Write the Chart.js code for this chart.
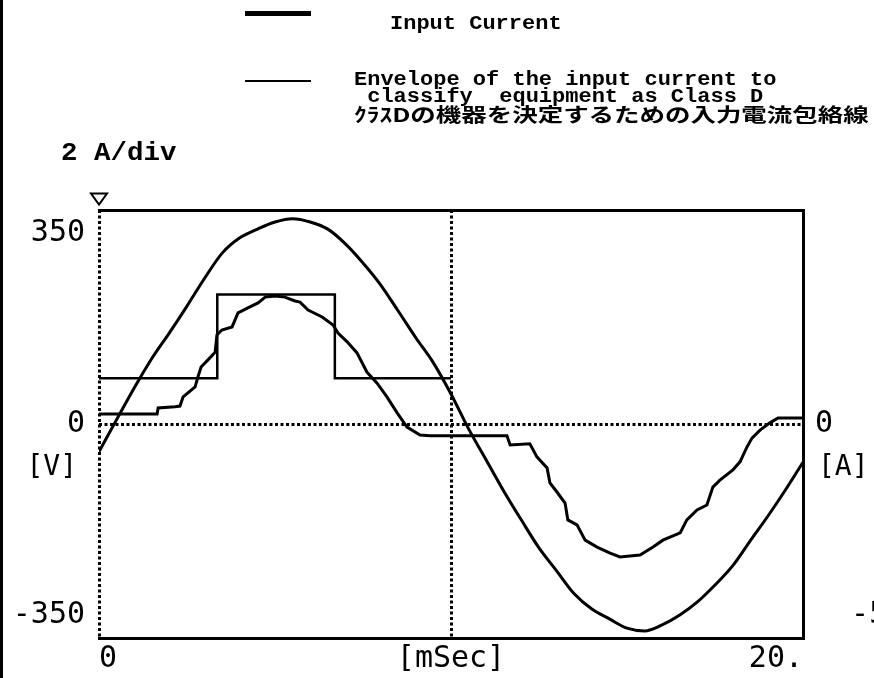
<!DOCTYPE html>
<html>
<head>
<meta charset="utf-8">
<script src="https://cdn.jsdelivr.net/npm/chart.js@4.4.1/dist/chart.umd.min.js"></script>
<style>
  html, body { margin: 0; padding: 0; background: #fff; }
  #wrap { position: relative; width: 874px; height: 678px; overflow: hidden; background: #fff; }
  #c { position: absolute; left: 0; top: 0; }
  #edge { position: absolute; left: 0; top: 0; width: 3px; height: 678px; background: #000; }
  .sw { position: absolute; background: #000; }
  .txt { position: absolute; white-space: pre; color: #000; font-family: "Liberation Mono", "DejaVu Sans Mono", monospace; font-weight: bold; font-size: 20px; line-height: 16px; transform-origin: 0 50%; transform: scaleX(1.1); }
  .jp { font-family: "Noto Sans CJK JP", sans-serif; font-weight: bold; font-size: 19px; transform: scaleX(1.34); }
</style>
</head>
<body>
<div id="wrap">
  <canvas id="c" width="874" height="678"></canvas>
  <div id="edge"></div>
</div>
<script>
// ---------- data ----------
// Line voltage [V], sampled every 0.5 ms
const voltageTimeMs = [0,0.5,1,1.5,2,2.5,3,3.5,4,4.5,5,5.5,6,6.5,7,7.5,8,8.5,9,9.5,10,10.5,11,11.5,12,12.5,13,13.5,14,14.5,15,15.5,16,16.5,17,17.5,18,18.5,19,19.5,20];
const voltageV = [-51,8,66,120,167,216,267,313,341,357,370,376,370,357,330,295,255,207,158,112,55,-9,-66,-123,-176,-227,-269,-311,-339,-357,-374,-379,-368,-350,-326,-295,-260,-214,-169,-121,-70];

// Input current [A]
const currentTimeMs = [0,1.65,1.68,2.16,2.30,2.39,2.73,2.81,2.90,3.15,3.30,3.35,3.49,3.78,3.95,4.23,4.52,4.72,5.00,5.28,5.57,5.71,5.94,6.34,6.65,6.79,7.05,7.33,7.61,7.90,8.18,8.47,8.75,9.12,9.40,11.59,11.68,12.24,12.44,12.73,12.81,13.01,13.24,13.32,13.58,13.81,14.15,14.52,14.80,15.37,15.74,16.02,16.51,16.70,16.99,17.27,17.44,17.64,18.01,18.21,18.41,18.55,18.78,19.06,19.29,20.00];
const currentA = [0.26,0.26,0.42,0.45,0.47,0.71,0.97,1.23,1.49,1.73,1.88,2.33,2.46,2.54,2.91,3.04,3.17,3.32,3.35,3.32,3.22,3.19,2.98,2.80,2.59,2.38,2.15,1.86,1.36,1.07,0.71,0.29,-0.08,-0.29,-0.31,-0.31,-0.55,-0.52,-0.86,-1.15,-1.54,-1.78,-2.07,-2.51,-2.64,-3.04,-3.22,-3.38,-3.48,-3.43,-3.22,-3.04,-2.85,-2.51,-2.25,-2.12,-1.65,-1.47,-1.20,-0.99,-0.60,-0.37,-0.16,0.03,0.16,0.16];

// Class D envelope [A]
const envelopeTimeMs = [0,3.36,3.36,6.70,6.70,10];
const envelopeA = [1.20,1.20,3.39,3.39,1.20,1.20];

// Trigger marker (top-left triangle)
const triggerTimeMs = [0];
const triggerV = [413];

// Axis ticks and labels
const xTickValues = [0,10,20];
const xTickLabels = ['0','[mSec]','20.'];
const vTickValues = [-350,0,350];
const vTickLabels = ['-350','0','350'];
const aTickValues = [-5,0];
const aTickLabels = ['  -5','0'];
const unitLabels = ['[V]','[A]'];
const legendLabels = ['Input Current', 'Envelope of the input current to\n classify  equipment as Class D'];
const legendLabelJa = 'ｸﾗｽDの機器を決定するための入力電流包絡線';
const scaleNote = '2 A/div';

// ---------- header (legend) as real text ----------
const wrap = document.getElementById('wrap');
function addDiv(cls, css, text) {
  const d = document.createElement('div');
  d.className = cls;
  Object.assign(d.style, css);
  if (text !== undefined) d.textContent = text;
  wrap.appendChild(d);
  return d;
}
addDiv('sw', {left:'245px', top:'11px', width:'66px', height:'5px'});
addDiv('txt', {left:'390px', top:'16px'}, legendLabels[0]);
addDiv('sw', {left:'245px', top:'80px', width:'66px', height:'2px'});
addDiv('txt', {left:'354px', top:'72px'}, legendLabels[1].split('\n')[0]);
addDiv('txt', {left:'354px', top:'89px'}, legendLabels[1].split('\n')[1]);
addDiv('txt jp', {left:'354px', top:'106px'}, legendLabelJa);
addDiv('txt', {left:'61px', top:'144px', fontSize:'25px', lineHeight:'20px'}, scaleNote);

// ---------- chart ----------
const pts = (xs, ys) => xs.map((x, i) => ({x, y: ys[i]}));
const tickFont = {family: 'DejaVu Sans Mono', size: 30};
const dotDash = [3, 2.5];

const unitPlugin = {
  id: 'units',
  afterDraw(chart) {
    const ctx = chart.ctx;
    const yL = chart.scales.y, yR = chart.scales.yA, xs = chart.scales.x;
    ctx.save();
    ctx.font = '28px "DejaVu Sans Mono"';
    ctx.fillStyle = '#000';
    ctx.textBaseline = 'middle';
    ctx.textAlign = 'right';
    ctx.fillText(unitLabels[0], yL.right - 22, yL.getPixelForValue(0) + 44);
    ctx.textAlign = 'left';
    ctx.fillText(unitLabels[1], yR.left + 15, yR.getPixelForValue(0) + 44);
    // trigger marker: downward hollow triangle, positioned through the scales
    for (let i = 0; i < triggerTimeMs.length; i++) {
      const px = xs.getPixelForValue(triggerTimeMs[i]);
      const py = yL.getPixelForValue(triggerV[i]);
      ctx.beginPath();
      ctx.moveTo(px - 8, py - 5);
      ctx.lineTo(px + 8, py - 5);
      ctx.lineTo(px, py + 6);
      ctx.closePath();
      ctx.fillStyle = '#fff';
      ctx.fill();
      ctx.lineWidth = 2;
      ctx.strokeStyle = '#000';
      ctx.stroke();
    }
    ctx.restore();
  }
};

new Chart(document.getElementById('c'), {
  type: 'line',
  data: {
    datasets: [
      {
        label: 'Voltage',
        data: pts(voltageTimeMs, voltageV),
        yAxisID: 'y',
        borderColor: '#000', borderWidth: 3,
        pointRadius: 0, cubicInterpolationMode: 'monotone', fill: false
      },
      {
        label: 'Input Current',
        data: pts(currentTimeMs, currentA),
        yAxisID: 'yA',
        borderColor: '#000', borderWidth: 3,
        pointRadius: 0, tension: 0, fill: false
      },
      {
        label: 'Envelope',
        data: pts(envelopeTimeMs, envelopeA),
        yAxisID: 'yA',
        borderColor: '#000', borderWidth: 2.5,
        pointRadius: 0, tension: 0, fill: false
      }
    ]
  },
  options: {
    responsive: false,
    animation: false,
    events: [],
    layout: {padding: 0},
    plugins: {legend: {display: false}, tooltip: {enabled: false}, title: {display: false}},
    scales: {
      x: {
        type: 'linear', position: 'bottom', min: 0, max: 20,
        afterBuildTicks: s => { s.ticks = xTickValues.map(v => ({value: v})); },
        afterFit: s => { s.height = 40; },
        ticks: {
          align: 'inner', padding: 3, color: '#000', font: tickFont, maxRotation: 0,
          callback: v => xTickLabels[xTickValues.indexOf(v)] ?? ''
        },
        grid: {
          display: true, drawTicks: false, lineWidth: 3,
          color: c => (c.tick && c.tick.value === 20) ? 'rgba(0,0,0,0)' : '#000'
        },
        border: {display: true, color: '#000', width: 3, dash: dotDash}
      },
      x2: {
        type: 'linear', position: 'top', min: 0, max: 20,
        afterFit: s => { s.height = 210; },
        ticks: {display: false},
        grid: {display: false, drawTicks: false},
        border: {display: true, color: '#000', width: 3}
      },
      y: {
        type: 'linear', position: 'left', min: -392, max: 392,
        afterBuildTicks: s => { s.ticks = vTickValues.map(v => ({value: v})); },
        afterFit: s => { s.width = 99; },
        ticks: {
          padding: 14, color: '#000', font: tickFont,
          callback: v => vTickLabels[vTickValues.indexOf(v)] ?? ''
        },
        grid: {
          display: true, drawTicks: false, lineWidth: 3,
          color: c => (c.tick && c.tick.value === 0) ? '#000' : 'rgba(0,0,0,0)'
        },
        border: {display: false, dash: dotDash}
      },
      yA: {
        type: 'linear', position: 'right', min: -5.6, max: 5.6,
        afterBuildTicks: s => { s.ticks = aTickValues.map(v => ({value: v})); },
        afterFit: s => { s.width = 71; },
        ticks: {
          padding: 12, color: '#000', font: tickFont,
          callback: v => aTickLabels[aTickValues.indexOf(v)] ?? ''
        },
        grid: {display: false, drawTicks: false},
        border: {display: true, color: '#000', width: 3}
      }
    }
  },
  plugins: [unitPlugin]
});
</script>
</body>
</html>
